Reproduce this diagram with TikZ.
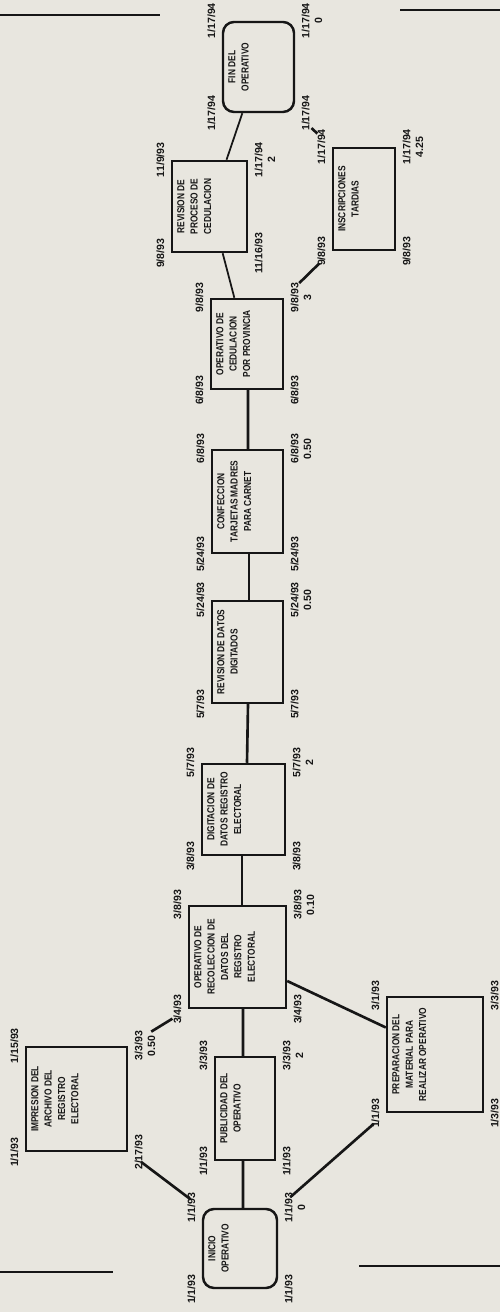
\documentclass[tikz,border=0pt]{standalone}
\usepackage{fontspec}
\newfontfamily\pertfont{Liberation Sans}[FakeStretch=0.82]
\newfontfamily\fechafont{Liberation Sans}
\usetikzlibrary{positioning,calc}
\definecolor{papel}{RGB}{232,230,223}
\definecolor{tinta}{RGB}{22,22,22}
\newcommand{\fechas}[6]{%
  \node[fecha, above=3pt of #1.north west] (#1-a) {#2};
  \node[fecha, above=3pt of #1.north east] (#1-b) {#3};
  \node[fecha, below=3pt of #1.south west] (#1-c) {#4};
  \node[fecha, below=3pt of #1.south east] (#1-d) {#5};
  \node[fecha, below=1.5pt of #1-d] (#1-e) {#6};}

\begin{document}
\begin{tikzpicture}[
    rotate=90,
    transform shape,
    caja/.style={draw=tinta, line width=1.4pt, inner sep=0pt},
    cajar/.style={caja, rounded corners=0.22cm},
    rotulo/.style={font=\pertfont\bfseries\fontsize{5.8}{7.6}\selectfont, text=tinta, align=center, inner sep=1pt},
    fecha/.style={font=\fechafont\bfseries\fontsize{6}{6}\selectfont, text=tinta, inner sep=0.5pt},
    enlace/.style={draw=tinta, line width=1.5pt},
    enlacefino/.style={draw=tinta, line width=1pt},
    regla/.style={draw=tinta, line width=0.9pt}
]
\useasboundingbox (0,-10) rectangle (26.24,0);
\fill[papel] (0,-10) rectangle (26.24,0);
\draw[regla] (25.94,0) -- (25.94,-3.2);
\draw[regla] (26.04,-8) -- (26.04,-10);
\draw[regla] (0.80,0) -- (0.80,-2.26);
\draw[regla] (0.92,-7.18) -- (0.92,-10);

\node[cajar, minimum width=1.58cm, minimum height=1.48cm] (ini) at (1.27,-4.80) {};
\node[caja, minimum width=2.06cm, minimum height=1.20cm] (pub) at (4.07,-4.90) {};
\node[caja, minimum width=2.08cm, minimum height=2.02cm] (imp) at (4.26,-1.53) {};
\node[caja, minimum width=2.30cm, minimum height=1.92cm] (pre) at (5.15,-8.70) {};
\node[caja, minimum width=2.04cm, minimum height=1.94cm] (ope) at (7.10,-4.75) {};
\node[caja, minimum width=1.82cm, minimum height=1.66cm] (dig) at (10.05,-4.87) {};
\node[caja, minimum width=2.04cm, minimum height=1.42cm] (rev) at (13.20,-4.95) {};
\node[caja, minimum width=2.06cm, minimum height=1.42cm] (con) at (16.21,-4.95) {};
\node[caja, minimum width=1.80cm, minimum height=1.44cm] (ced) at (19.36,-4.94) {};
\node[caja, minimum width=1.82cm, minimum height=1.50cm] (rpc) at (22.11,-4.19) {};
\node[caja, minimum width=2.04cm, minimum height=1.24cm] (ins) at (22.26,-7.28) {};
\node[cajar, minimum width=1.80cm, minimum height=1.42cm] (fin) at (24.90,-5.17) {};

\node[rotulo, below=2.5pt of ini.north] (ini-t) {INICIO\\OPERATIVO};
\node[rotulo, below=2.5pt of pub.north] (pub-t) {PUBLICIDAD DEL\\OPERATIVO};
\node[rotulo, below=2.5pt of imp.north] (imp-t) {IMPRESION DEL\\ARCHIVO DEL\\REGISTRO\\ELECTORAL};
\node[rotulo, below=2.5pt of pre.north] (pre-t) {PREPARACION DEL\\MATERIAL PARA\\REALIZAR OPERATIVO};
\node[rotulo, below=2.5pt of ope.north] (ope-t) {OPERATIVO DE\\RECOLECCION DE\\DATOS DEL\\REGISTRO\\ELECTORAL};
\node[rotulo, below=2.5pt of dig.north] (dig-t) {DIGITACION DE\\DATOS REGISTRO\\ELECTORAL};
\node[rotulo, below=2.5pt of rev.north] (rev-t) {REVISION DE DATOS\\DIGITADOS};
\node[rotulo, below=2.5pt of con.north] (con-t) {CONFECCION\\TARJETAS MADRES\\PARA CARNET};
\node[rotulo, below=2.5pt of ced.north] (ced-t) {OPERATIVO DE\\CEDULACION\\POR PROVINCIA};
\node[rotulo, below=2.5pt of rpc.north] (rpc-t) {REVISION DE\\PROCESO DE\\CEDULACION};
\node[rotulo, below=2.5pt of ins.north] (ins-t) {INSCRIPCIONES\\TARDIAS};
\node[rotulo, below=2.5pt of fin.north] (fin-t) {FIN DEL\\OPERATIVO};

\fechas{ini}{1/1/93}{1/1/93}{1/1/93}{1/1/93}{0}
\fechas{pub}{1/1/93}{3/3/93}{1/1/93}{3/3/93}{2}
\fechas{imp}{1/1/93}{1/15/93}{2/17/93}{3/3/93}{0.50}
\fechas{pre}{1/1/93}{3/1/93}{1/3/93}{3/3/93}{}
\fechas{ope}{3/4/93}{3/8/93}{3/4/93}{3/8/93}{0.10}
\fechas{dig}{3/8/93}{5/7/93}{3/8/93}{5/7/93}{2}
\fechas{rev}{5/7/93}{5/24/93}{5/7/93}{5/24/93}{0.50}
\fechas{con}{5/24/93}{6/8/93}{5/24/93}{6/8/93}{0.50}
\fechas{ced}{6/8/93}{9/8/93}{6/8/93}{9/8/93}{3}
\fechas{rpc}{9/8/93}{11/9/93}{11/16/93}{1/17/94}{2}
\fechas{ins}{9/8/93}{1/17/94}{9/8/93}{1/17/94}{4.25}
\fechas{fin}{1/17/94}{1/17/94}{1/17/94}{1/17/94}{0}

\draw[enlace] ($(ini.east)+(0,-0.06)$) -- ($(pub.west)+(0,0.04)$);
\draw[enlace] ($(pub.east)+(0,0.04)$) -- ($(ope.west)+(0,-0.11)$);
\draw[enlace] ($(ope.east)+(0,-0.09)$) -- ($(dig.west)+(0,0.03)$);
\draw[enlace] ($(dig.east)+(0,-0.07)$) -- ($(rev.west)+(0,-0.01)$);
\draw[enlace] ($(rev.east)+(0,-0.03)$) -- ($(con.west)+(0,-0.03)$);
\draw[enlace] ($(con.east)+(0,-0.01)$) -- ($(ced.west)+(0,-0.02)$);
\draw[enlace, shorten <=0.28cm, shorten >=0.32cm] (ini.north east) -- (imp.south west);
\draw[enlace, shorten <=0.32cm, shorten >=0.32cm] (ini.south east) -- (pre.north west);
\draw[enlace, shorten <=0.54cm, shorten >=0.36cm] (imp.south east) -- (ope.north west);
\draw[enlace] ($(ope.south west)!0.27!(ope.south east)$) -- ($(pre.north west)!0.73!(pre.north east)$);
\draw[enlacefino] ($(ced.north east)!0.33!(ced.south east)$) -- ($(rpc.north west)!0.67!(rpc.south west)$);
\draw[enlacefino] ($(rpc.north east)!0.72!(rpc.south east)$) -- ($(fin.north west)!0.28!(fin.south west)$);
\draw[enlace, shorten <=0.42cm, shorten >=0.35cm] (ced.south east) -- (ins.north west);
\draw[enlace, shorten <=0.39cm, shorten >=0.44cm] (ins.north east) -- (fin.south west);
\end{tikzpicture}
\end{document}
